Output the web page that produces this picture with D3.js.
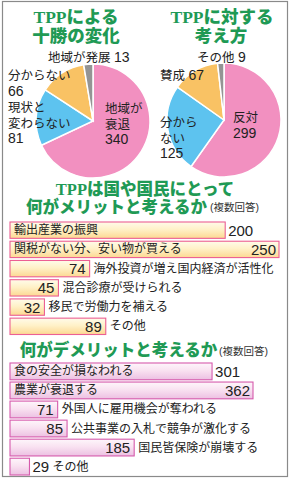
<!DOCTYPE html>
<html>
<head>
<meta charset="utf-8">
<script src="https://cdn.jsdelivr.net/npm/d3@7"></script>
<style>
  html, body { margin: 0; padding: 0; background: #fff; }
  svg { display: block; font-family: "Liberation Sans", "Noto Sans CJK JP", sans-serif; }
  .ttl { font-family: "Liberation Serif", "Noto Sans CJK JP", serif; }
</style>
</head>
<body>
<svg width="290" height="480"></svg>
<script>
// 十勝の変化 (pie 1)
var changeLabels = ['地域が衰退', '現状と変わらない', '分からない', '地域が発展']
var changeValues = [340, 81, 66, 13]
// TPPに対する考え方 (pie 2)
var opinionLabels = ['反対', '分からない', '賛成', 'その他']
var opinionValues = [299, 125, 67, 9]
var pieColors = ['#f290c0', '#5dc3ef', '#f9c264', '#949494']

// メリット (複数回答)
var meritLabels = ['輸出産業の振興', '関税がない分、安い物が買える', '海外投資が増え国内経済が活性化', '混合診療が受けられる', '移民で労働力を補える', 'その他']
var meritValues = [200, 250, 74, 45, 32, 89]
// デメリット (複数回答)
var demeritLabels = ['食の安全が損なわれる', '農業が衰退する', '外国人に雇用機会が奪われる', '公共事業の入札で競争が激化する', '国民皆保険が崩壊する', 'その他']
var demeritValues = [301, 362, 71, 85, 185, 29]

var svg = d3.select('svg')
var W = 290
var green = '#1f9a55'

svg.append('rect')
  .attr('x', 2.5).attr('y', 1.5).attr('width', 285).attr('height', 475)
  .attr('fill', '#fff').attr('stroke', '#8a8a8a').attr('stroke-width', 1.2)

var defs = svg.append('defs')
var g1 = defs.append('linearGradient').attr('id', 'meritGrad').attr('x1', 0).attr('y1', 0).attr('x2', 0).attr('y2', 1)
g1.append('stop').attr('offset', '0%').attr('stop-color', '#fffbea')
g1.append('stop').attr('offset', '45%').attr('stop-color', '#fff1c8')
g1.append('stop').attr('offset', '100%').attr('stop-color', '#fcd892')
var g2 = defs.append('linearGradient').attr('id', 'demeritGrad').attr('x1', 0).attr('y1', 0).attr('x2', 0).attr('y2', 1)
g2.append('stop').attr('offset', '0%').attr('stop-color', '#fef6fb')
g2.append('stop').attr('offset', '45%').attr('stop-color', '#f9e2f1')
g2.append('stop').attr('offset', '100%').attr('stop-color', '#ecc0e2')

// one text element per title block, lines as tspans
var titleBlock = function(parts) {
  var t = svg.append('text').attr('class', 'ttl')
    .attr('font-weight', 900).attr('fill', green)
    .attr('stroke', '#fff').attr('stroke-width', 2).attr('paint-order', 'stroke')
  parts.forEach(function(p) {
    var s = t.append('tspan').attr('x', p.x).attr('y', p.y)
      .attr('text-anchor', p.anchor || 'middle')
      .attr('font-size', p.size).text(p.text)
    if (p.small) {
      s.attr('fill', '#333').attr('font-weight', 400).attr('stroke', 'none')
        .style('font-family', '"Liberation Sans", "Noto Sans CJK JP", sans-serif')
    }
  })
}

// pies
var drawPie = function(values, cx, cy, r) {
  var pie = d3.pie().sort(null)
  var arc = d3.arc().innerRadius(0).outerRadius(r)
  svg.append('g')
    .attr('transform', 'translate(' + cx + ',' + cy + ')')
    .selectAll('path').data(pie(values)).enter().append('path')
    .attr('d', arc)
    .attr('fill', function(d, i) { return pieColors[i] })
    .attr('stroke', '#fff').attr('stroke-width', 1.5)
}
drawPie(changeValues, 93, 121, 57)
drawPie(opinionValues, 224, 120, 57)

// pie label: strings, numbers, or [text, number] on one line
var label = function(lines, x, y) {
  var t = svg.append('text').attr('x', x).attr('y', y)
    .attr('font-size', 12.5).attr('fill', '#222')
  lines.forEach(function(s, i) {
    var sp = t.append('tspan').attr('x', x).attr('dy', i ? 15.5 : 0)
    if (typeof s === 'number') sp.attr('font-size', 14).text(s)
    else if (Array.isArray(s)) {
      sp.text(s[0] + ' ')
      t.append('tspan').attr('font-size', 14).text(s[1])
    } else sp.text(s)
  })
}

titleBlock([{text: 'TPPによる', x: 76, y: 22.5, size: 17.5}, {text: '十勝の変化', x: 76, y: 42, size: 17.5}])
titleBlock([{text: 'TPPに対する', x: 222, y: 22.5, size: 17.5}, {text: '考え方', x: 221, y: 42, size: 17.5}])

label([[changeLabels[3], changeValues[3]]], 48, 62)
label([changeLabels[2], changeValues[2]], 8, 80)
label(['現状と', '変わらない', changeValues[1]], 8, 112)
label(['地域が', '衰退', changeValues[0]], 105, 113)

label([[opinionLabels[3], opinionValues[3]]], 197, 62)
label([[opinionLabels[2], opinionValues[2]]], 160, 80)
label(['分から', 'ない', opinionValues[1]], 160, 127)
label([opinionLabels[0], opinionValues[0]], 233, 122)

// bars
var drawBars = function(labels, values, x, y, fill, stroke) {
  var g = svg.append('g')
  var bw = y.bandwidth()
  labels.forEach(function(lab, i) {
    var v = values[i]
    var x1 = x(v)
    var yt = y(lab)
    var base = yt + bw / 2 + 4.5
    g.append('rect')
      .attr('x', x(0)).attr('y', yt)
      .attr('width', x1 - x(0)).attr('height', bw)
      .attr('fill', fill).attr('stroke', stroke).attr('stroke-width', 1.1)
    var barW = x1 - x(0)
    var val = function(xx, anchor) {
      g.append('text').attr('x', xx).attr('y', base + 1)
        .attr('text-anchor', anchor).attr('font-size', 15).attr('fill', '#222').text(v)
    }
    var txt = function(xx) {
      g.append('text').attr('x', xx).attr('y', base - 0.5)
        .attr('font-size', 12).attr('fill', '#222').text(lab)
    }
    if (barW > 140) {
      txt(x(0) + 4)
      if (x1 + 34 > W - 4) val(x1 - 3, 'end')
      else val(x1 + 3, 'start')
    } else if (barW > 30) {
      val(x1 - 4, 'end')
      txt(x1 + 4)
    } else {
      val(x1 + 3, 'start')
      txt(x1 + 23)
    }
  })
}

titleBlock([
  {text: 'TPPは国や国民にとって', x: 145, y: 195, size: 16.5},
  {text: '何がメリットと考えるか', x: 116.5, y: 213, size: 16.5},
  {text: '(複数回答)', x: 210, y: 211, size: 10.5, anchor: 'start', small: true}
])

var xMerit = d3.scaleLinear().domain([0, 250]).range([10, 279])
var yMerit = d3.scaleBand().domain(meritLabels).range([222, 334.5]).paddingInner(0.15)
drawBars(meritLabels, meritValues, xMerit, yMerit, 'url(#meritGrad)', '#ec5f93')

titleBlock([
  {text: '何がデメリットと考えるか', x: 118.5, y: 356, size: 16.5},
  {text: '(複数回答)', x: 219, y: 355, size: 10.5, anchor: 'start', small: true}
])

var xDemerit = d3.scaleLinear().domain([0, 362]).range([10, 253])
var yDemerit = d3.scaleBand().domain(demeritLabels).range([363, 475]).paddingInner(0.12)
drawBars(demeritLabels, demeritValues, xDemerit, yDemerit, 'url(#demeritGrad)', '#d65aac')
</script>
</body>
</html>
